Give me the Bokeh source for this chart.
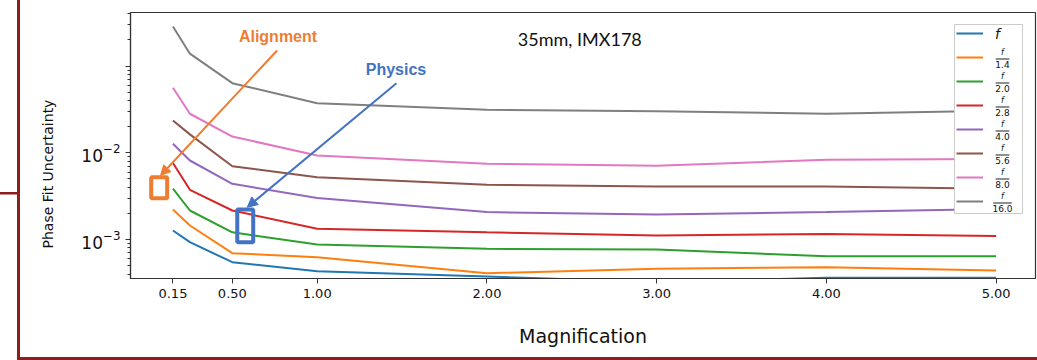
from bokeh.embed import file_html
from bokeh.models import (Arrow, BoxAnnotation, FixedTicker, Label, Legend,
                          LegendItem, LogTickFormatter, NormalHead,
                          NumeralTickFormatter, Range1d, Title)
from bokeh.plotting import figure
from bokeh.resources import INLINE

# ---- data -------------------------------------------------------------
magnification = [0.15, 0.25, 0.5, 1.0, 2.0, 3.0, 4.0, 5.0]

unc_f = [0.00127, 0.000931, 0.000547, 0.00043, 0.000374, 0.000323, 0.000362, 0.000362]
unc_f1_4 = [0.00222, 0.00145, 0.000695, 0.000625, 0.000409, 0.000459, 0.000479, 0.000439]
unc_f2_0 = [0.00385, 0.00216, 0.00121, 0.000876, 0.000781, 0.000767, 0.000642, 0.000642]
unc_f2_8 = [0.00763, 0.00374, 0.00216, 0.00133, 0.00121, 0.00111, 0.00116, 0.00110]
unc_f4_0 = [0.0127, 0.00815, 0.00439, 0.00301, 0.00207, 0.00194, 0.00207, 0.00225]
unc_f5_6 = [0.0236, 0.0163, 0.0070, 0.00523, 0.00427, 0.00409, 0.00409, 0.00385]
unc_f8_0 = [0.0562, 0.0282, 0.0154, 0.00931, 0.00746, 0.00708, 0.0083, 0.00848]
unc_f16_0 = [0.286, 0.139, 0.0635, 0.0373, 0.0313, 0.0302, 0.0282, 0.0306]

series = [unc_f, unc_f1_4, unc_f2_0, unc_f2_8, unc_f4_0, unc_f5_6, unc_f8_0, unc_f16_0]
f_denominators = [None, "1.4", "2.0", "2.8", "4.0", "5.6", "8.0", "16.0"]
colors = ["#1f77b4", "#ff7f0e", "#2ca02c", "#d62728",
          "#9467bd", "#8c564b", "#e377c2", "#7f7f7f"]

x_ticks = [0.15, 0.5, 1.0, 2.0, 3.0, 4.0, 5.0]
y_major_ticks = [1e-3, 1e-2, 1e-1]
y_minor_ticks = [m * 10.0 ** e for e in (-4, -3, -2, -1) for m in range(2, 10)]

# ---- figure -------------------------------------------------------------
FRAME_LEFT, FRAME_BOTTOM = 130, 278   # canvas pixels of the plot frame corner


def sx(px):
    """canvas x pixel -> frame-relative screen unit"""
    return px - FRAME_LEFT


def sy(py):
    """canvas y pixel (top-down) -> frame-relative screen unit (bottom-up)"""
    return FRAME_BOTTOM - py


p = figure(width=1037, height=360, y_axis_type="log",
           x_range=Range1d(-0.10, 5.232), y_range=Range1d(3.55e-4, 0.415),
           output_backend="svg", toolbar_location=None,
           min_border_left=130, min_border_right=2,
           min_border_top=12, min_border_bottom=82)

# slide rules around the chart, painted behind the (transparent) canvas border
RULE = "#8e1d1d"
p.styles = {
    "background-color": "white",
    "background-image": ", ".join([f"linear-gradient({RULE}, {RULE})"] * 3),
    "background-size": "3px 360px, 1020px 3px, 19px 2.5px",
    "background-position": "17px 0px, 17px 357px, 0px 192px",
    "background-repeat": "no-repeat",
}
p.border_fill_alpha = 0
p.background_fill_color = "white"
p.grid.visible = False
p.outline_line_color = "#333333"
p.outline_line_width = 1.2

# x axis
p.xaxis.ticker = FixedTicker(ticks=x_ticks, minor_ticks=[])
p.xaxis.formatter = NumeralTickFormatter(format="0.00")
p.xaxis.axis_label = "Magnification"
p.xaxis.axis_label_text_font = "DejaVu Sans"
p.xaxis.axis_label_text_font_size = "19px"
p.xaxis.axis_label_text_font_style = "normal"
p.xaxis.axis_label_text_color = "#111111"
p.xaxis.axis_label_standoff = 24

# y axis
p.yaxis.ticker = FixedTicker(ticks=y_major_ticks, minor_ticks=y_minor_ticks)
p.yaxis.formatter = LogTickFormatter()
p.yaxis.major_label_overrides = {1e-1: ""}

for ax in (p.xaxis[0], p.yaxis[0]):
    ax.axis_line_color = "#333333"
    ax.axis_line_width = 1.2
    ax.major_tick_line_color = "#333333"
    ax.major_tick_out = 5
    ax.major_tick_in = 0
    ax.minor_tick_line_color = "#333333"
    ax.minor_tick_out = 3
    ax.minor_tick_in = 0
    ax.major_label_text_font = "DejaVu Sans"
    ax.major_label_text_color = "#111111"
    ax.major_label_standoff = 5
p.xaxis.major_label_text_font_size = "13px"
p.yaxis.major_label_text_font_size = "17px"

# y axis title, set in the left margin and shifted towards the bottom
p.add_layout(Title(text="Phase Fit Uncertainty", align="left", offset=30,
                   standoff=46, text_font="DejaVu Sans", text_font_size="14px",
                   text_font_style="normal", text_color="#111111"), "left")

# ---- series ----------------------------------------------------------------
renderers = []
for vals, col in zip(series, colors):
    r = p.line(magnification, vals, line_color=col, line_width=2)
    renderers.append(r)

# legend panel (white box), entries, and f/N fraction labels
p.add_layout(BoxAnnotation(left=sx(954), right=sx(1022), top=sy(24), bottom=sy(213),
                           left_units="screen", right_units="screen",
                           top_units="screen", bottom_units="screen",
                           fill_color="white", fill_alpha=1,
                           line_color="#cccccc", line_width=1, line_alpha=1))

legend = Legend(items=[LegendItem(label=" ", renderers=[r]) for r in renderers],
                location=(sx(954), sy(213)), orientation="vertical",
                padding=2, margin=0, spacing=4,
                glyph_width=27, glyph_height=20,
                label_width=33, label_height=20, label_standoff=4,
                label_text_font_size="8px",
                border_line_alpha=0, background_fill_alpha=0)
p.add_layout(legend)

for i, den in enumerate(f_denominators):
    cy = 33 + 24 * i
    if den is None:
        p.add_layout(Label(x=sx(997), y=sy(cy), x_units="screen", y_units="screen",
                           text="f", text_font="DejaVu Sans",
                           text_font_style="italic", text_font_size="14px",
                           text_align="center", text_baseline="middle",
                           text_color="#111111"))
        continue
    p.add_layout(Label(x=sx(1002), y=sy(cy - 5), x_units="screen", y_units="screen",
                       text="f", text_font="DejaVu Sans",
                       text_font_style="italic", text_font_size="8px",
                       text_align="center", text_baseline="middle",
                       text_color="#111111"))
    half = (4.9 * len(den) - 1) / 2
    p.add_layout(BoxAnnotation(left=sx(1002 - half), right=sx(1002 + half),
                               top=sy(cy + 1), bottom=sy(cy + 2),
                               left_units="screen", right_units="screen",
                               top_units="screen", bottom_units="screen",
                               fill_color="#222222", fill_alpha=1,
                               line_alpha=0))
    p.add_layout(Label(x=sx(1002), y=sy(cy + 6.5), x_units="screen", y_units="screen",
                       text=den, text_font="DejaVu Sans",
                       text_font_size="9px",
                       text_align="center", text_baseline="middle",
                       text_color="#111111"))

# in-plot caption
p.add_layout(Label(x=2.182, y=0.1697, text="35mm, IMX178",
                   text_font="Lato", text_font_size="18px",
                   text_align="left", text_baseline="middle",
                   y_offset=7.5, text_color="#111111"))

# callouts
ORANGE, BLUE = "#ed7d31", "#4472c4"

p.add_layout(Label(x=0.769, y=0.2166, text="Alignment",
                   text_font="Liberation Sans", text_font_style="bold",
                   text_font_size="16px", text_align="center",
                   text_baseline="middle", text_color=ORANGE))
p.add_layout(Arrow(x_start=0.764, y_start=0.1514, x_end=0.077, y_end=0.00547,
                   line_color=ORANGE, line_width=2,
                   end=NormalHead(size=10, fill_color=ORANGE, line_color=ORANGE)))
p.add_layout(BoxAnnotation(left=0.022, right=0.116, bottom=0.00300, top=0.00523,
                           fill_alpha=0, line_color=ORANGE, line_width=4,
                           line_alpha=1))

p.add_layout(Label(x=1.464, y=0.0902, text="Physics",
                   text_font="Liberation Sans", text_font_style="bold",
                   text_font_size="16px", text_align="center",
                   text_baseline="middle", text_color=BLUE))
p.add_layout(Arrow(x_start=1.467, y_start=0.0635, x_end=0.588, y_end=0.00236,
                   line_color=BLUE, line_width=2,
                   end=NormalHead(size=10, fill_color=BLUE, line_color=BLUE)))
p.add_layout(BoxAnnotation(left=0.529, right=0.623, bottom=0.000931, top=0.00222,
                           fill_alpha=0, line_color=BLUE, line_width=4,
                           line_alpha=1))

open("out.html", "w").write(file_html(p, INLINE))
